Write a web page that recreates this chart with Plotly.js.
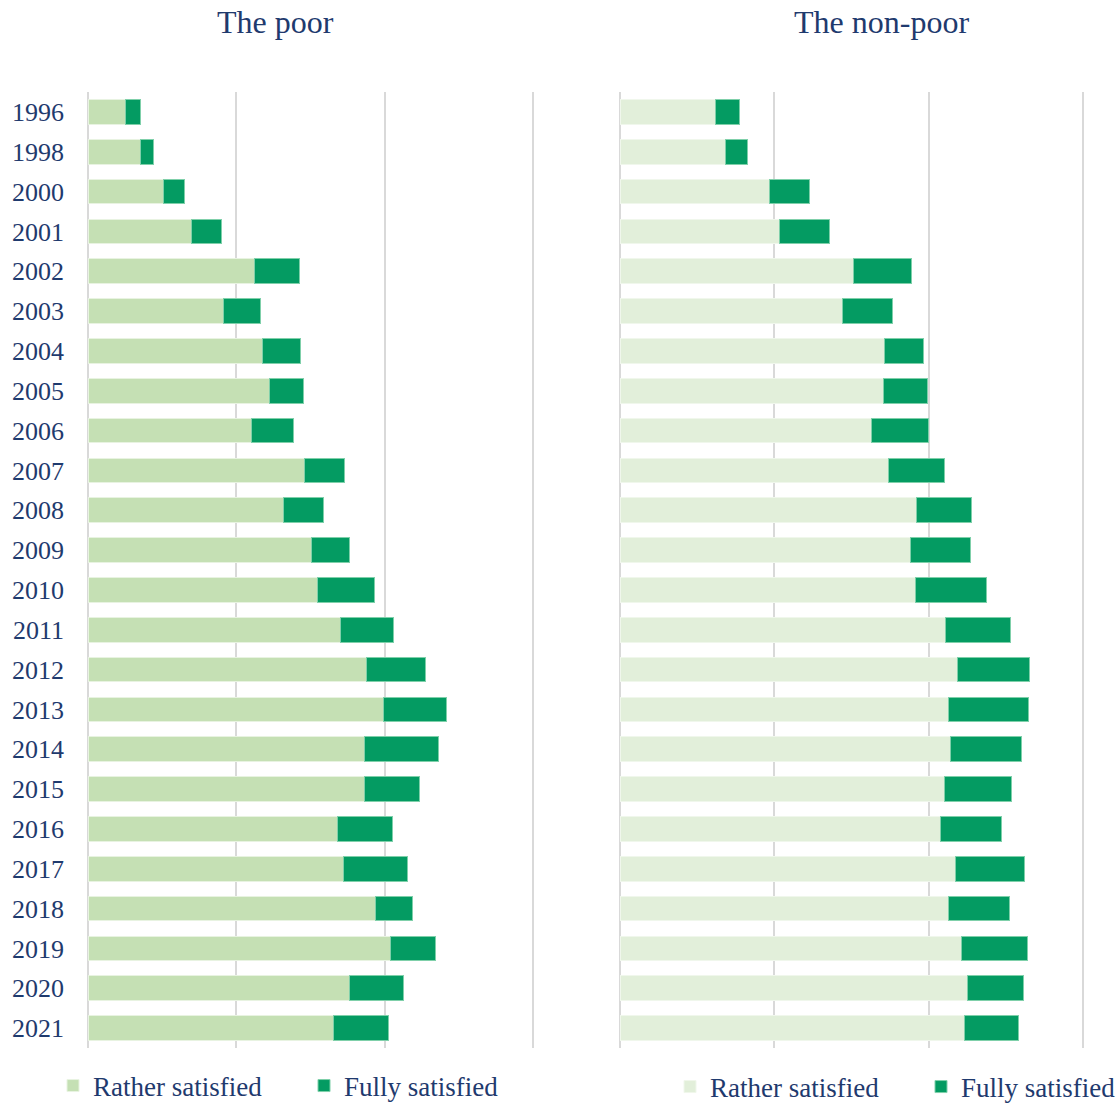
<!DOCTYPE html>
<html>
<head>
<meta charset="utf-8">
<script src="https://cdn.plot.ly/plotly-3.0.1.min.js"></script>
<style>html,body{margin:0;padding:0;background:#fff;}#chart{width:1120px;height:1103px;}</style>
</head>
<body>
<div id="chart"></div>
<script>
const years = ["1996","1998","2000","2001","2002","2003","2004","2005","2006","2007","2008","2009","2010","2011","2012","2013","2014","2015","2016","2017","2018","2019","2020","2021"];
const poorRather = [5.1,7.0,10.2,13.9,22.4,18.3,23.5,24.5,22.1,29.2,26.4,30.2,30.9,34.0,37.6,39.9,37.3,37.3,33.6,34.5,38.8,40.8,35.2,33.1];
const poorFully  = [1.9,1.8,2.8,4.1,6.1,5.0,5.2,4.5,5.6,5.4,5.3,5.0,7.7,7.2,7.9,8.5,9.9,7.4,7.4,8.6,5.0,6.0,7.3,7.4];
const nonpoorRather = [12.3,13.6,19.4,20.6,30.3,28.8,34.3,34.1,32.6,34.8,38.4,37.7,38.3,42.2,43.8,42.6,42.9,42.0,41.6,43.5,42.6,44.3,45.1,44.7];
const nonpoorFully  = [3.2,2.9,5.1,6.6,7.5,6.5,5.1,5.7,7.4,7.3,7.1,7.7,9.2,8.4,9.3,10.3,9.2,8.7,7.8,8.9,7.9,8.5,7.2,6.9];
const panelTitles = ["The poor","The non-poor"];
const seriesNames = ["Rather satisfied","Fully satisfied"];

const navy = "#1f3a6e";
const dark = "#049b62";
const fontFam = "Liberation Serif";

const traces = [
  {type:"bar", orientation:"h", y:years, x:poorRather, name:seriesNames[0], xaxis:"x", yaxis:"y",
   marker:{color:"#c5e0b4", line:{color:"#e8f3e1", width:1}}, legend:"legend"},
  {type:"bar", orientation:"h", y:years, x:poorFully, name:seriesNames[1], xaxis:"x", yaxis:"y",
   marker:{color:dark, line:{color:"#7fd0aa", width:1}}, legend:"legend"},
  {type:"bar", orientation:"h", y:years, x:nonpoorRather, name:seriesNames[0], xaxis:"x2", yaxis:"y2",
   marker:{color:"#e2efda", line:{color:"#f0f7ec", width:1}}, legend:"legend2"},
  {type:"bar", orientation:"h", y:years, x:nonpoorFully, name:seriesNames[1], xaxis:"x2", yaxis:"y2",
   marker:{color:dark, line:{color:"#7fd0aa", width:1}}, legend:"legend2"}
];

const ydom = [1-1048/1103, 1-92/1103];
const xaxisBase = {range:[-0.15,60.15], dtick:20, tick0:0, showgrid:true, gridcolor:"#d9d9d9", gridwidth:2,
  zeroline:false, showticklabels:false, ticks:"", showline:false, fixedrange:true, automargin:false};
const layout = {
  width:1120, height:1103,
  margin:{l:0,r:0,t:0,b:0,autoexpand:false},
  paper_bgcolor:"#fff", plot_bgcolor:"#fff",
  barmode:"stack", bargap:0.38,
  font:{family:fontFam, color:navy, size:27},
  showlegend:true,
  xaxis:Object.assign({}, xaxisBase, {domain:[87/1120, 534/1120], anchor:"y"}),
  xaxis2:Object.assign({}, xaxisBase, {domain:[619/1120, 1084/1120], anchor:"y2"}),
  yaxis:{domain:ydom, type:"category", autorange:"reversed", anchor:"x", ticks:"", showgrid:false, automargin:false,
    tickfont:{family:fontFam, size:26, color:navy}, ticklabelstandoff:22, showline:false},
  yaxis2:{domain:ydom, type:"category", autorange:"reversed", anchor:"x2", ticks:"", showgrid:false, automargin:false,
    showticklabels:false, showline:false},
  legend:{orientation:"h", x:53/1120, xanchor:"left", y:1-1086/1103, yanchor:"middle",
    font:{family:fontFam, size:27, color:navy}, entrywidth:206, entrywidthmode:"pixels",
    traceorder:"normal", bgcolor:"rgba(0,0,0,0)"},
  legend2:{orientation:"h", x:670/1120, xanchor:"left", y:1-1087/1103, yanchor:"middle",
    font:{family:fontFam, size:27, color:navy}, entrywidth:206, entrywidthmode:"pixels",
    traceorder:"normal", bgcolor:"rgba(0,0,0,0)"},
  annotations:[
    {text:panelTitles[0], xref:"paper", yref:"paper", x:275/1120, y:1-22/1103, xanchor:"center", yanchor:"middle",
     showarrow:false, font:{family:fontFam, size:32, color:navy}},
    {text:panelTitles[1], xref:"paper", yref:"paper", x:881/1120, y:1-22/1103, xanchor:"center", yanchor:"middle",
     showarrow:false, font:{family:fontFam, size:32, color:navy}}
  ]
};
Plotly.newPlot("chart", traces, layout, {displayModeBar:false, staticPlot:true});
</script>
</body>
</html>
